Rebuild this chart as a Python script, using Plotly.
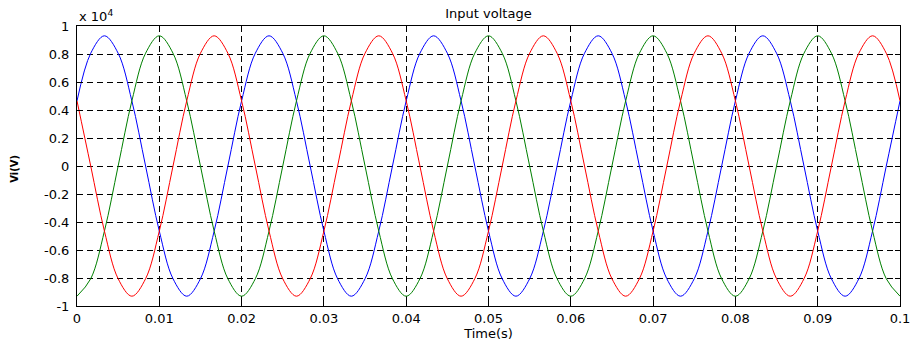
import numpy as np
import plotly.graph_objects as go

# Three-phase input voltage, sampled every 1/600 s (30 electrical degrees at 50 Hz)
time_s = np.linspace(0.0, 0.1, 61)

phase_a = [
    4650, 8054, 9300, 8054, 4650, 0, -4650, -8054, -9300, -8054, -4650, 0,
    4650, 8054, 9300, 8054, 4650, 0, -4650, -8054, -9300, -8054, -4650, 0,
    4650, 8054, 9300, 8054, 4650, 0, -4650, -8054, -9300, -8054, -4650, 0,
    4650, 8054, 9300, 8054, 4650, 0, -4650, -8054, -9300, -8054, -4650, 0,
    4650, 8054, 9300, 8054, 4650, 0, -4650, -8054, -9300, -8054, -4650, 0,
    4650,
]
phase_b = [
    -9300, -8054, -4650, 0, 4650, 8054, 9300, 8054, 4650, 0, -4650, -8054,
    -9300, -8054, -4650, 0, 4650, 8054, 9300, 8054, 4650, 0, -4650, -8054,
    -9300, -8054, -4650, 0, 4650, 8054, 9300, 8054, 4650, 0, -4650, -8054,
    -9300, -8054, -4650, 0, 4650, 8054, 9300, 8054, 4650, 0, -4650, -8054,
    -9300, -8054, -4650, 0, 4650, 8054, 9300, 8054, 4650, 0, -4650, -8054,
    -9300,
]
phase_c = [
    4650, 0, -4650, -8054, -9300, -8054, -4650, 0, 4650, 8054, 9300, 8054,
    4650, 0, -4650, -8054, -9300, -8054, -4650, 0, 4650, 8054, 9300, 8054,
    4650, 0, -4650, -8054, -9300, -8054, -4650, 0, 4650, 8054, 9300, 8054,
    4650, 0, -4650, -8054, -9300, -8054, -4650, 0, 4650, 8054, 9300, 8054,
    4650, 0, -4650, -8054, -9300, -8054, -4650, 0, 4650, 8054, 9300, 8054,
    4650,
]

x_ticks = [0, 0.01, 0.02, 0.03, 0.04, 0.05, 0.06, 0.07, 0.08, 0.09, 0.1]
x_tick_text = ["0", "0.01", "0.02", "0.03", "0.04", "0.05", "0.06", "0.07", "0.08", "0.09", "0.1"]
y_ticks = [-10000, -8000, -6000, -4000, -2000, 0, 2000, 4000, 6000, 8000, 10000]
y_tick_text = ["-1", "-0.8", "-0.6", "-0.4", "-0.2", "0", "0.2", "0.4", "0.6", "0.8", "1"]

FONT = "DejaVu Sans, Arial, sans-serif"

fig = go.Figure()
for values, color in [(phase_a, "#0000ff"), (phase_b, "#008000"), (phase_c, "#ff0000")]:
    fig.add_trace(go.Scatter(
        x=time_s, y=values, mode="lines",
        line=dict(color=color, width=1, shape="spline", smoothing=1),
        showlegend=False, hoverinfo="skip",
    ))

axis_common = dict(
    automargin=False,
    showline=True, linecolor="black", linewidth=1, mirror="ticks",
    ticks="inside", ticklen=5, tickcolor="black", tickwidth=1,
    showgrid=True, gridcolor="black", gridwidth=1, griddash="6px,4px",
    zeroline=False, tickfont=dict(family=FONT, size=13, color="black"),
)

fig.update_xaxes(
    range=[0, 0.1], tickvals=x_ticks, ticktext=x_tick_text,
    title=dict(text="Time(s)", font=dict(family=FONT, size=13, color="black"), standoff=0),
    ticklabelstandoff=0, **axis_common,
)
fig.update_yaxes(
    range=[-10000, 10000], tickvals=y_ticks, ticktext=y_tick_text,
    ticklabelstandoff=4, **axis_common,
)

fig.update_layout(
    width=913, height=347,
    margin=dict(l=77, r=13, t=26, b=41),
    paper_bgcolor="white", plot_bgcolor="white",
    title=dict(text="Input voltage", x=0.535, xanchor="center", y=0.962, yanchor="middle",
               font=dict(family=FONT, size=13, color="black")),
    annotations=[
        dict(text="x 10<sup>4</sup>", xref="paper", yref="paper", x=0, y=1.0,
             xanchor="left", yanchor="bottom", showarrow=False, yshift=0,
             font=dict(family=FONT, size=13, color="black")),
        dict(text="<b>Vi(V)</b>", xref="paper", yref="paper", x=0, y=0.49,
             xanchor="center", yanchor="middle", xshift=-62, textangle=-90,
             showarrow=False, font=dict(family=FONT, size=10, color="black")),
    ],
)

fig.write_html("out.html")
